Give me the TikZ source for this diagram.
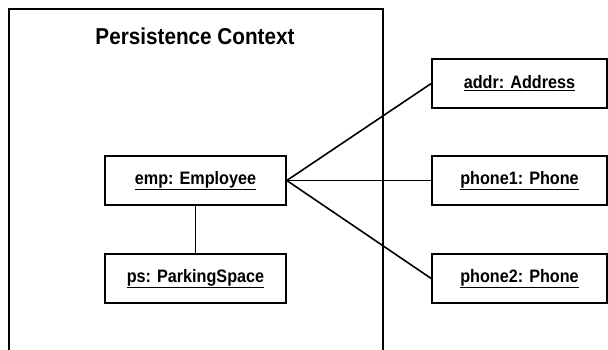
\documentclass[tikz,border=0pt]{standalone}
\usepackage{fontspec}
\setmainfont{Liberation Sans}[FakeStretch=0.9]
\begin{document}
\begin{tikzpicture}[x=1pt,y=-1pt,
  obj/.style={draw,line width=1.6pt,minimum width=181pt,minimum height=49pt,inner sep=0pt,font=\bfseries\fontsize{18}{20}\selectfont},
  robj/.style={obj,minimum width=175pt},
  link/.style={line width=1.6pt}]
\useasboundingbox (0,0) rectangle (608,349);
\draw[line width=1.6pt] (9,360) -- (9,9) -- (383,9) -- (383,360);
\node[font=\bfseries\fontsize{23}{26}\selectfont] (title) at (195,36) {Persistence Context};
\node[obj] (emp) at (195.5,180.5) {\underline{emp: Employee}};
\node[obj] (ps) at (195.5,278.5) {\underline{ps: ParkingSpace}};
\node[robj] (addr) at (519.5,83.5) {\underline{addr: Address}};
\node[robj] (ph1) at (519.5,180.5) {\underline{phone1: Phone}};
\node[robj] (ph2) at (519.5,278.5) {\underline{phone2: Phone}};
\draw[link] (emp) -- (ps);
\draw[link] (emp.east) -- (addr.west);
\draw[link] (emp.east) -- (ph1.west);
\draw[link] (emp.east) -- (ph2.west);
\end{tikzpicture}
\end{document}
